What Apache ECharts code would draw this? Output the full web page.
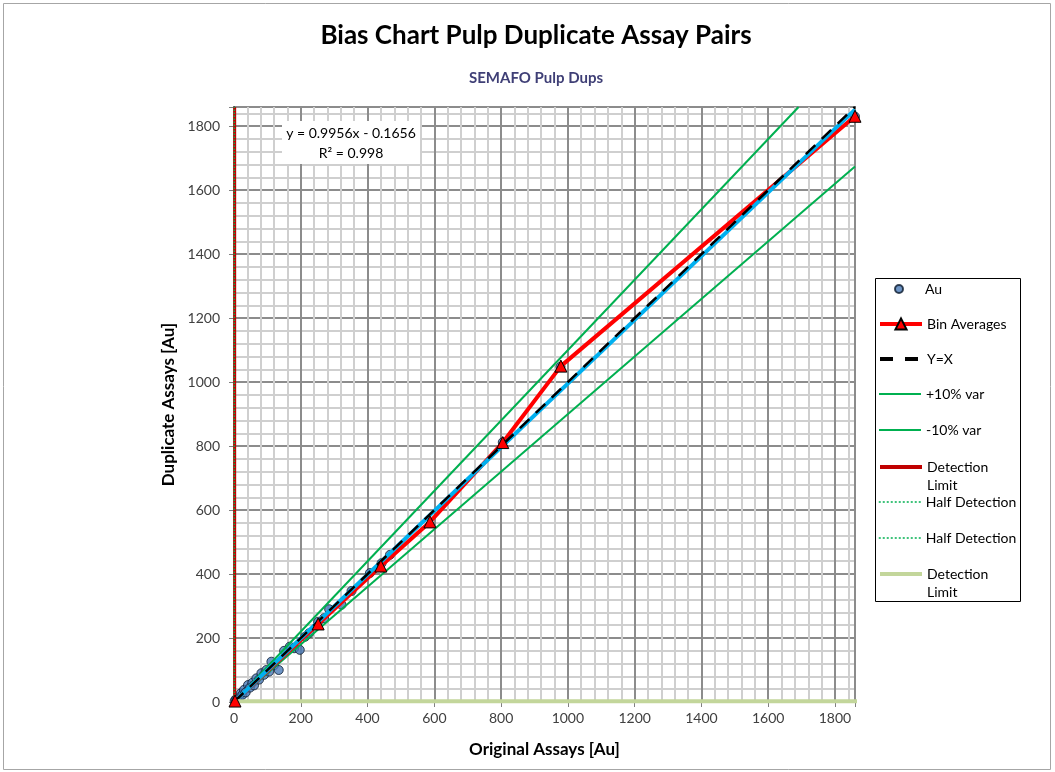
<!DOCTYPE html>
<html>
<head>
<meta charset="utf-8">
<script src="https://cdn.jsdelivr.net/npm/echarts@6/dist/echarts.min.js"></script>
<style>
  html, body { margin: 0; padding: 0; background: #fff; }
  #chart { width: 1055px; height: 772px; }
</style>
</head>
<body>
<div id="chart"></div>
<script>
// Au duplicate pairs (original, duplicate)
var auOrig = [2, 5, 10, 15, 20, 25, 30, 35, 42, 48, 55, 60, 67, 75, 82, 90, 97, 105, 112, 120, 134, 150, 167, 180, 197, 213, 225, 252, 270, 285, 322, 352, 407, 442, 467, 805, 978, 1860];
var auDup  = [3, 8, 12, 14, 27, 22, 38, 30, 53, 45, 60, 52, 74, 70, 90, 85, 100, 95, 126, 115, 100, 160, 173, 168, 163, 204, 215, 251, 262, 290, 304, 347, 403, 434, 460, 812, 1048, 1830];

// bin averages
var binOrig = [3, 252, 440, 587, 805, 979, 1860];
var binDup  = [3, 244, 425, 563, 811, 1050, 1831];

// reference lines (end points)
var yxLine    = [[0, 0], [1860, 1860]];
var plus10    = [[0, 0], [1691, 1860]];
var minus10   = [[0, 0], [1860, 1674]];
var trendLine = [[0, -0.17], [1860, 1851.7]];
var detLimitV = [[2, 0], [2, 1860]];
var halfDetV  = [[1, 0], [1, 1860]];
var halfDetH  = [[0, 1], [1860, 1]];
var detLimitH = [[0, 2], [1880, 2]];

function pairs(xs, ys) {
  return xs.map(function (x, i) { return [x, ys[i]]; });
}

var myChart = echarts.init(document.getElementById('chart'));
var FONT = 'Lato';

// legend rows: name, centre y, two-line label, icon style
var legendRows = [
  { name: 'Au', y: 289, left: 894, h: 8 },
  { name: 'Bin Averages', y: 324, h: 14, line: { color: '#ff0000', width: 4 } },
  { name: 'Y=X', y: 359, h: 14, noSym: true, line: { color: '#000', width: 4, type: [13, 12] } },
  { name: '+10% var', y: 394, h: 14, noSym: true, line: { color: '#00b050', width: 2 } },
  { name: '-10% var', y: 430, h: 14, noSym: true, line: { color: '#00b050', width: 2 } },
  { name: 'Detection Limit', y: 467, two: true, h: 14, noSym: true, line: { color: '#c00000', width: 4 } },
  { name: 'Half Detection', y: 502, h: 14, noSym: true, line: { color: '#00b050', width: 1.5, type: [2, 2] } },
  { name: 'Half Detection ', y: 538, h: 14, noSym: true, line: { color: '#00b050', width: 1.5, type: [2, 2] } },
  { name: 'Detection Limit ', y: 574, two: true, h: 14, noSym: true, line: { color: '#c3d69b', width: 4 } }
];

var legends = legendRows.map(function (r) {
  var lg = {
    left: r.left || 878,
    top: r.two ? r.y - 27 : r.y - 9,
    padding: 0,
    orient: 'vertical',
    itemWidth: 42,
    itemHeight: r.h,
    itemGap: 0,
    selectedMode: false,
    data: [r.name],
    formatter: function (name) {
      var n = name.trim();
      if (n === 'Detection Limit') return '\nDetection\nLimit';
      return n;
    },
    textStyle: { fontFamily: FONT, fontSize: 14, color: '#000', lineHeight: 18 }
  };
  if (r.line) lg.lineStyle = r.line;
  if (r.noSym) lg.itemStyle = { color: 'rgba(0,0,0,0)', borderWidth: 0, opacity: 0 };
  return lg;
});

var lineSeries = function (name, data, color, width, type, extra) {
  var s = {
    name: name,
    type: 'line',
    data: data,
    symbol: 'none',
    silent: true,
    lineStyle: { color: color, width: width, type: type || 'solid' },
    itemStyle: { color: color }
  };
  for (var k in extra) s[k] = extra[k];
  return s;
};

var tickFmt = function (v) {
  return v % 200 === 0 ? String(v) : '';
};

var option = {
  animation: false,
  backgroundColor: '#fff',
  title: [
    {
      text: 'Bias Chart Pulp Duplicate Assay Pairs',
      left: 536, top: 23, padding: 0, textAlign: 'center',
      textStyle: { fontFamily: FONT, fontSize: 26, fontWeight: 'bold', color: '#000' }
    },
    {
      text: 'SEMAFO Pulp Dups',
      left: 536, top: 71, padding: 0, textAlign: 'center',
      textStyle: { fontFamily: FONT, fontSize: 15, fontWeight: 'bold', color: '#3f3f76' }
    }
  ],
  legend: legends,
  grid: {
    left: 234, right: 200, top: 107, bottom: 70,
    show: true, borderColor: '#000', borderWidth: 1.5
  },
  xAxis: {
    type: 'value',
    min: 0, max: 1860, interval: 200,
    name: 'Original Assays [Au]',
    nameLocation: 'middle', nameGap: 39,
    nameTextStyle: { fontFamily: FONT, fontSize: 17, fontWeight: 'bold', color: '#000' },
    axisLine: { show: true, lineStyle: { color: '#000' } },
    axisTick: { show: true, length: 5, lineStyle: { color: '#808080' } },
    axisLabel: {
      fontFamily: FONT, fontSize: 14, color: '#404040', margin: 9,
      formatter: tickFmt
    },
    splitLine: { show: true, lineStyle: { color: '#8c8c8c', width: 2 } },
    minorTick: { show: false, splitNumber: 5 },
    minorSplitLine: { show: true, lineStyle: { color: '#cfcfcf', width: 2 } }
  },
  yAxis: {
    type: 'value',
    min: 0, max: 1860, interval: 200,
    name: 'Duplicate Assays [Au]',
    nameLocation: 'middle', nameGap: 57,
    nameTextStyle: { fontFamily: FONT, fontSize: 17, fontWeight: 'bold', color: '#000' },
    axisLine: { show: true, lineStyle: { color: '#000' } },
    axisTick: { show: true, length: 5, lineStyle: { color: '#808080' } },
    axisLabel: {
      fontFamily: FONT, fontSize: 14, color: '#404040', margin: 14,
      formatter: tickFmt
    },
    splitLine: { show: true, lineStyle: { color: '#8c8c8c', width: 2 } },
    minorTick: { show: false, splitNumber: 5 },
    minorSplitLine: { show: true, lineStyle: { color: '#cfcfcf', width: 2 } }
  },
  series: [
    lineSeries('+10% var', plus10, '#00b050', 2),
    lineSeries('-10% var', minus10, '#00b050', 2),
    {
      name: 'Au',
      type: 'scatter',
      data: pairs(auOrig, auDup),
      symbol: 'circle',
      symbolSize: 9,
      silent: true,
      itemStyle: { color: '#4a7ab8', borderColor: '#0d1b2e', borderWidth: 1 }
    },
    {
      name: 'Bin Averages',
      type: 'line',
      data: pairs(binOrig, binDup),
      symbol: 'triangle',
      symbolSize: 12,
      clip: false,
      silent: true,
      lineStyle: { color: '#ff0000', width: 4 },
      itemStyle: { color: '#ff0000', borderColor: '#000', borderWidth: 1 }
    },
    lineSeries('trend', trendLine, '#00b0f0', 4),
    lineSeries('Y=X', yxLine, '#000', 2.5, [13, 9]),
    lineSeries('Detection Limit', detLimitV, '#c00000', 3, 'solid', { clip: false }),
    lineSeries('Half Detection', halfDetV, '#00b050', 1.5, 'dotted', { clip: false }),
    lineSeries('Half Detection ', halfDetH, '#00b050', 1.5, 'dotted', { clip: false }),
    lineSeries('Detection Limit ', detLimitH, '#c3d69b', 4, 'solid', { clip: false })
  ],
  graphic: [
    {
      type: 'rect', z: 0, silent: true,
      shape: { x: 3.5, y: 3.5, width: 1047, height: 766 },
      style: { fill: 'none', stroke: '#a6a6a6', lineWidth: 1 }
    },
    {
      type: 'rect', z: 1, silent: true,
      shape: { x: 875.5, y: 278.5, width: 145, height: 323 },
      style: { fill: 'none', stroke: '#000', lineWidth: 1 }
    },
    {
      type: 'rect', z: 20, silent: true,
      shape: { x: 282, y: 121, width: 138, height: 43 },
      style: { fill: '#fff' }
    },
    {
      type: 'text', z: 21, silent: true,
      x: 351, y: 133,
      style: {
        text: 'y = 0.9956x - 0.1656', fontFamily: FONT, fontSize: 14,
        fill: '#000', align: 'center', verticalAlign: 'middle'
      }
    },
    {
      type: 'text', z: 21, silent: true,
      x: 351, y: 153,
      style: {
        text: 'R² = 0.998', fontFamily: FONT, fontSize: 14,
        fill: '#000', align: 'center', verticalAlign: 'middle'
      }
    }
  ]
};

myChart.setOption(option);
</script>
</body>
</html>
